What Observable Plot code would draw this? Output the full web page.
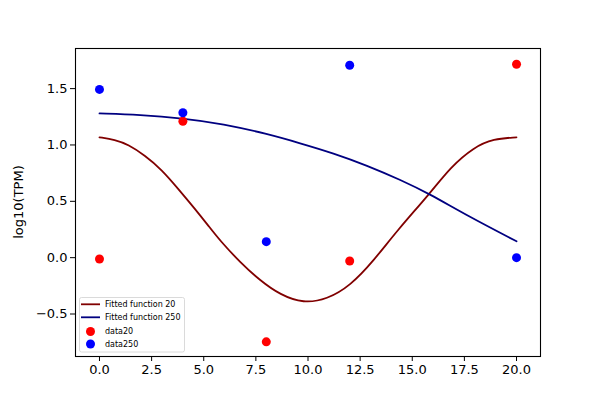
<!DOCTYPE html>
<html>
<head>
<meta charset="utf-8">
<script src="https://cdn.jsdelivr.net/npm/d3@7"></script>
<script src="https://cdn.jsdelivr.net/npm/@observablehq/plot@0.6"></script>
<style>
  html, body { margin: 0; padding: 0; background: #fff; }
  #wrap { position: relative; width: 600px; height: 400px; }
  #wrap svg { position: absolute; left: 0; top: 0; }
</style>
</head>
<body>
<div id="wrap"></div>
<script>
// sampled time points
const sampleX = [0, 4, 8, 12, 20];
const data20 = [-0.012, 1.21, -0.747, -0.03, 1.716];
const data250 = [1.493, 1.286, 0.142, 1.707, 0.0];

// fitted curves
const fit20X = [0, 0.74, 1.38, 2.18, 2.99, 3.78, 4.58, 5.22, 5.78, 6.75, 7.71, 8.67, 9.78, 10.91, 12.03, 13.15, 14.27, 15.83, 16.83, 17.95, 18.9, 20];
const fit20Y = [1.068, 1.046, 1.004, 0.907, 0.78, 0.61, 0.433, 0.284, 0.151, -0.042, -0.204, -0.33, -0.405, -0.37, -0.249, -0.027, 0.24, 0.566, 0.803, 0.98, 1.055, 1.068];
const fit250X = [0, 1.94, 3.97, 5.94, 8.03, 9.62, 11.22, 12.83, 14.43, 15.83, 17.63, 20];
const fit250Y = [1.28, 1.268, 1.238, 1.188, 1.099, 1.016, 0.927, 0.818, 0.691, 0.566, 0.373, 0.145];

const xTicks = [0, 2.5, 5, 7.5, 10, 12.5, 15, 17.5, 20];
const yTicks = [-0.5, 0, 0.5, 1.0, 1.5];
const legendNames = ["Fitted function 20", "Fitted function 250", "data20", "data250"];
const yLabel = "log10(TPM)";

const lineColor20 = "#800000", lineColor250 = "#000080";
const dotColor20 = "#ff0000", dotColor250 = "#0000ff";

const fit20 = fit20X.map((x, i) => ({x, y: fit20Y[i]}));
const fit250 = fit250X.map((x, i) => ({x, y: fit250Y[i]}));
const pts20 = sampleX.map((x, i) => ({x, y: data20[i]}));
const pts250 = sampleX.map((x, i) => ({x, y: data250[i]}));

const font = "DejaVu Sans, sans-serif";

const chart = Plot.plot({
  width: 600,
  height: 400,
  marginLeft: 75,
  marginRight: 60,
  marginTop: 48,
  marginBottom: 44,
  style: {fontFamily: font, fontSize: "13px", background: "#fff", color: "#000"},
  x: {domain: [-1.15, 21.15], ticks: xTicks, tickFormat: d3.format(".1f"), tickSize: 5, tickPadding: 3, label: null},
  y: {domain: [-0.877, 1.856], ticks: yTicks, tickFormat: d => d3.format(".1f")(d).replace("-", "\u2212"), tickSize: 5, tickPadding: 3, label: null},
  marks: [
    Plot.line(fit20, {x: "x", y: "y", stroke: lineColor20, strokeWidth: 1.8, curve: "basis"}),
    Plot.line(fit250, {x: "x", y: "y", stroke: lineColor250, strokeWidth: 1.8, curve: "basis"}),
    Plot.dot(pts20, {x: "x", y: "y", r: 4.5, fill: dotColor20, stroke: null}),
    Plot.dot(pts250, {x: "x", y: "y", r: 4.5, fill: dotColor250, stroke: null}),
    Plot.frame({stroke: "#000", strokeWidth: 1.1})
  ]
});

const wrap = document.getElementById("wrap");
wrap.appendChild(chart);

const svg = d3.select(chart);

// y label
svg.append("text")
  .attr("transform", "translate(23,202) rotate(-90)")
  .attr("text-anchor", "middle")
  .attr("font-family", font)
  .attr("font-size", 13)
  .attr("fill", "#000")
  .text(yLabel);

// legend
const lg = svg.append("g").attr("font-family", font).attr("font-size", 8).attr("text-anchor", "start");
lg.append("rect")
  .attr("x", 79.5).attr("y", 297.5).attr("width", 105).attr("height", 54.5)
  .attr("rx", 2).attr("fill", "#fff").attr("fill-opacity", 0.8)
  .attr("stroke", "#d0d0d0").attr("stroke-width", 0.8);
const entries = [
  {name: legendNames[0], kind: "line", color: lineColor20},
  {name: legendNames[1], kind: "line", color: lineColor250},
  {name: legendNames[2], kind: "dot", color: dotColor20},
  {name: legendNames[3], kind: "dot", color: dotColor250}
];
const rowY = [304.3, 317.3, 331.5, 344];
entries.forEach((e, i) => {
  const y = rowY[i];
  if (e.kind === "line") {
    lg.append("line").attr("x1", 81).attr("x2", 100).attr("y1", y).attr("y2", y)
      .attr("stroke", e.color).attr("stroke-width", 1.8);
  } else {
    lg.append("circle").attr("cx", 90.5).attr("cy", y).attr("r", 4.5).attr("fill", e.color);
  }
  lg.append("text").attr("x", 105).attr("y", y).attr("dy", "0.35em")
    .attr("text-anchor", "start").attr("fill", "#000").text(e.name);
});
</script>
</body>
</html>
